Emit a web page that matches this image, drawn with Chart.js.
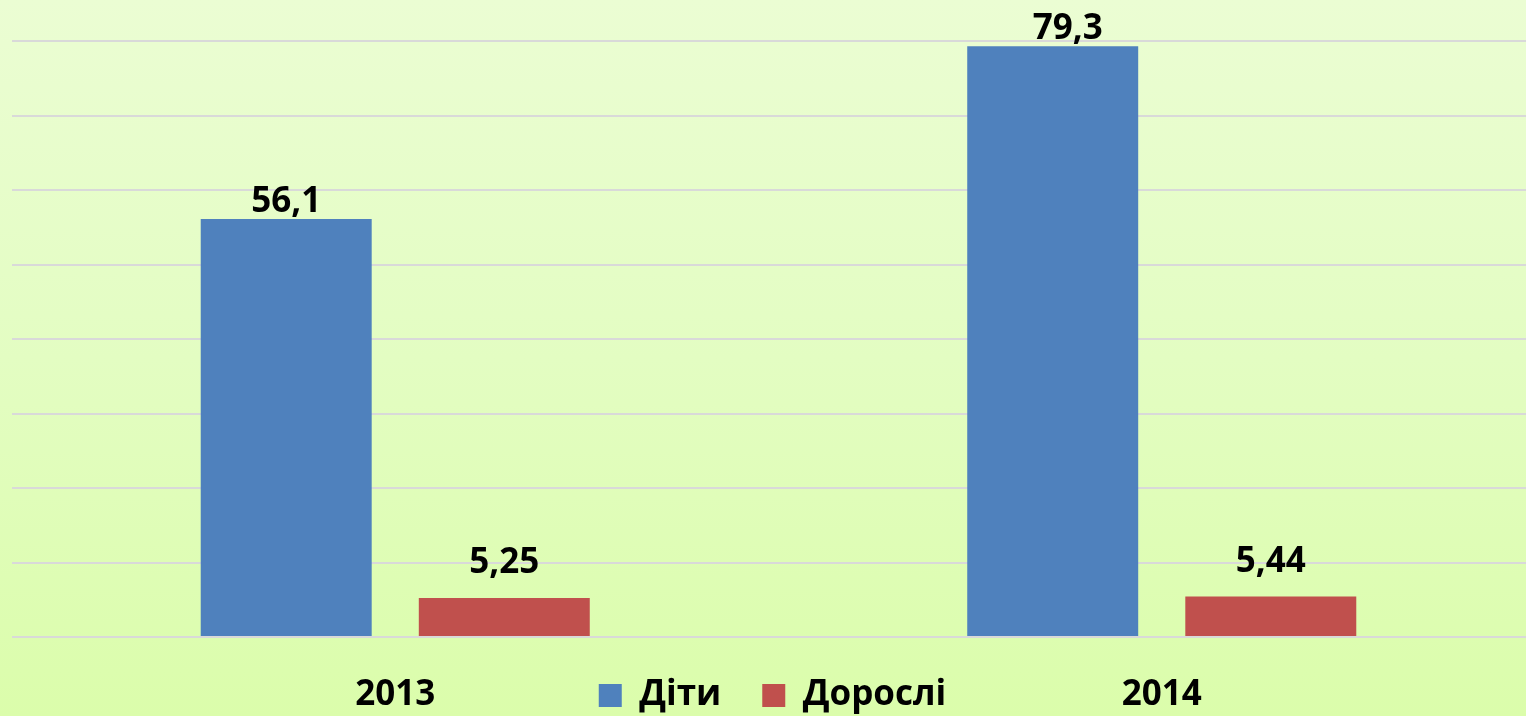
<!DOCTYPE html>
<html>
<head>
<meta charset="utf-8">
<script src="https://cdn.jsdelivr.net/npm/chart.js@4"></script>
<style>
  html, body { margin: 0; padding: 0; overflow: hidden; }
  body {
    width: 1526px; height: 716px;
    background: linear-gradient(to bottom, #ebfdd3 0%, #e3fdc2 50%, #dbfdab 100%);
  }
  #wrap { width: 1545px; height: 716px; position: relative; }
</style>
</head>
<body>
<div id="wrap"><canvas id="chart"></canvas></div>
<script>
// Дані
const years = ['2013', '2014'];
const kids = [56.1, 79.3];
const adults = [5.25, 5.44];
const seriesNames = ['Діти', 'Дорослі'];
const yMax = 80;
const yStep = 10;

const FONT = "'Open Sans', 'Noto Sans', sans-serif";

// підписи значень над стовпцями (десяткова кома)
const valueLabels = {
    id: 'valueLabels',
    afterDatasetsDraw(chart) {
        const ctx = chart.ctx;
        ctx.save();
        ctx.font = 'bold 35px ' + FONT;
        ctx.fillStyle = '#000';
        ctx.textAlign = 'center';
        ctx.textBaseline = 'bottom';
        chart.data.datasets.forEach((ds, i) => {
            const meta = chart.getDatasetMeta(i);
            const gap = i === 0 ? 0 : 17;
            meta.data.forEach((bar, j) => {
                const txt = String(ds.data[j]).replace('.', ',');
                // підпис 79,3 у зразку трохи зсунутий праворуч
                const dx = (i === 0 && j === 1) ? 15 : 0;
                ctx.fillText(txt, bar.x + dx, bar.y - gap);
            });
        });
        ctx.restore();
    }
};

new Chart(document.getElementById('chart'), {
    type: 'bar',
    data: {
        labels: years,
        datasets: [
            { label: seriesNames[0], data: kids, backgroundColor: '#4f81bd' },
            { label: seriesNames[1], data: adults, backgroundColor: '#c0504d' }
        ]
    },
    options: {
        responsive: true,
        maintainAspectRatio: false,
        animation: false,
        categoryPercentage: 0.569,
        barPercentage: 0.784,
        // легенда стоїть в одному рядку з підписами років
        layout: { padding: { top: 41, left: 0, right: 0, bottom: -7 } },
        plugins: {
            tooltip: { enabled: false },
            legend: {
                position: 'bottom',
                labels: {
                    color: '#000',
                    font: { family: FONT, size: 35, weight: 'bold' },
                    boxWidth: 23,
                    boxHeight: 23,
                    padding: 41
                }
            }
        },
        scales: {
            x: {
                grid: { display: false },
                border: { display: false },
                ticks: {
                    color: '#000',
                    font: { family: FONT, size: 35, weight: 'bold' },
                    mirror: true,
                    padding: -79
                },
                afterFit(scale) { scale.height = 0; }
            },
            y: {
                min: 0,
                max: yMax,
                ticks: { display: false, stepSize: yStep },
                grid: { color: '#d9d9d9', lineWidth: 2, drawTicks: false },
                border: { display: false },
                afterFit(scale) { scale.width = 12; }
            }
        }
    },
    plugins: [valueLabels]
});
</script>
</body>
</html>
